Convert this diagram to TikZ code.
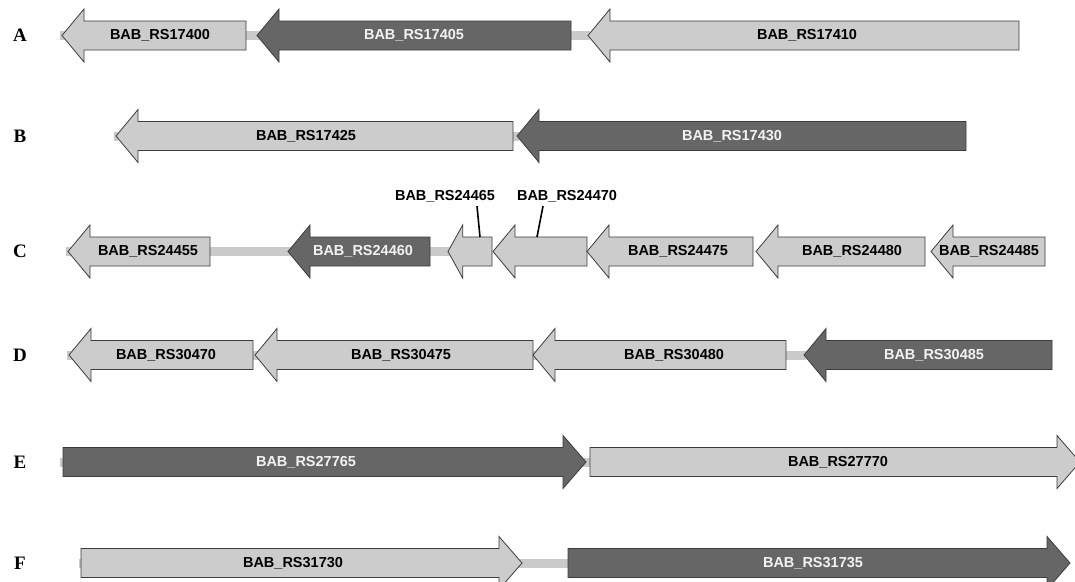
\documentclass[tikz,border=0pt]{standalone}
\usepackage{fontspec}
\setmainfont{Liberation Serif}
\newfontfamily\genefont{Liberation Sans}
\definecolor{genelite}{HTML}{CCCCCC}
\definecolor{genedark}{HTML}{666666}
\definecolor{geneedge}{HTML}{3C3C3C}
\definecolor{bbgray}{HTML}{CACACA}
\tikzset{
  lite/.style={fill=genelite, draw=geneedge, line width=0.8},
  dark/.style={fill=genedark, draw=geneedge, line width=0.8},
  lite txt/.style={font=\genefont\bfseries\fontsize{14.5}{16}\selectfont, text=black, inner sep=1pt},
  dark txt/.style={font=\genefont\bfseries\fontsize{14.5}{16}\selectfont, text=white!95!black, inner sep=1pt},
  backbone/.style={bbgray, line width=9},
  rowlbl/.style={font=\bfseries\fontsize{19}{21}\selectfont},
  leader/.style={black, line width=1.6}
}
% tip x, end x, y, style, name, text, text position
\newcommand{\leftgene}[7]{%
  \pgfmathsetmacro{\headlen}{min(22,(#2-#1)/3)}
  \draw[#4] (#1,#3) -- ({#1+\headlen},{#3-26.5}) -- ({#1+\headlen},{#3-14.5}) -- (#2,{#3-14.5})
    -- (#2,{#3+14.5}) -- ({#1+\headlen},{#3+14.5}) -- ({#1+\headlen},{#3+26.5}) -- cycle;
  \node[#4 txt] (#5) at (#7) {#6};
}
% start x, tip x, y, style, name, text, text position
\newcommand{\rightgene}[7]{%
  \draw[#4] (#2,#3) -- ({#2-23},{#3-26.5}) -- ({#2-23},{#3-14.5}) -- (#1,{#3-14.5})
    -- (#1,{#3+14.5}) -- ({#2-23},{#3+14.5}) -- ({#2-23},{#3+26.5}) -- cycle;
  \node[#4 txt] (#5) at (#7) {#6};
}
\begin{document}
\begin{tikzpicture}[x=1pt, y=-1pt]
\useasboundingbox (0,0) rectangle (1075,581);

% A
\node[rowlbl] (rowA) at (20,35.5) {A};
\draw[backbone] (60,35.5) -- (590,35.5);
\leftgene{62}{246}{35.5}{lite}{g17400}{BAB\_RS17400}{160,35.5}
\leftgene{257}{571}{35.5}{dark}{g17405}{BAB\_RS17405}{414,35.5}
\leftgene{588}{1019}{35.5}{lite}{g17410}{BAB\_RS17410}{807,35.5}

% B
\node[rowlbl] (rowB) at (20,136) {B};
\draw[backbone] (114,136) -- (118,136);
\draw[backbone] (512,136) -- (519,136);
\leftgene{116}{513}{136}{lite}{g17425}{BAB\_RS17425}{306,136}
\leftgene{517}{966}{136}{dark}{g17430}{BAB\_RS17430}{732,136}

% C
\node[rowlbl] (rowC) at (20,251.5) {C};
\draw[backbone] (66,251.5) -- (450,251.5);
\leftgene{68}{210}{251.5}{lite}{g24455}{BAB\_RS24455}{148,251.5}
\leftgene{288}{430}{251.5}{dark}{g24460}{BAB\_RS24460}{363,251.5}
\leftgene{448}{492}{251.5}{lite}{g24465}{BAB\_RS24465}{445,196}
\leftgene{493}{587}{251.5}{lite}{g24470}{BAB\_RS24470}{567,196}
\leftgene{587}{753}{251.5}{lite}{g24475}{BAB\_RS24475}{678,251.5}
\leftgene{756}{925}{251.5}{lite}{g24480}{BAB\_RS24480}{852,251.5}
\leftgene{931}{1045}{251.5}{lite}{g24485}{BAB\_RS24485}{989,251.5}
\coordinate (e24465) at (480,237);
\coordinate (e24470) at (537,237);
\draw[leader] ([xshift=32pt, yshift=-3pt]g24465.south) -- (e24465);
\draw[leader] ([xshift=-24pt, yshift=-3pt]g24470.south) -- (e24470);

% D
\node[rowlbl] (rowD) at (20,355) {D};
\draw[backbone] (67,355) -- (806,355);
\leftgene{69}{253}{355}{lite}{g30470}{BAB\_RS30470}{166,355}
\leftgene{255}{533}{355}{lite}{g30475}{BAB\_RS30475}{401,355}
\leftgene{533}{786}{355}{lite}{g30480}{BAB\_RS30480}{674,355}
\leftgene{804}{1052}{355}{dark}{g30485}{BAB\_RS30485}{934,355}

% E
\node[rowlbl] (rowE) at (20,462) {E};
\draw[backbone] (60,462) -- (590,462);
\rightgene{63}{586}{462}{dark}{g27765}{BAB\_RS27765}{306,462}
\rightgene{590}{1080}{462}{lite}{g27770}{BAB\_RS27770}{838,462}

% F
\node[rowlbl] (rowF) at (20,563) {F};
\draw[backbone] (79,563) -- (570,563);
\rightgene{81}{522}{563}{lite}{g31730}{BAB\_RS31730}{293,563}
\rightgene{568}{1070}{563}{dark}{g31735}{BAB\_RS31735}{813,563}
\end{tikzpicture}
\end{document}
